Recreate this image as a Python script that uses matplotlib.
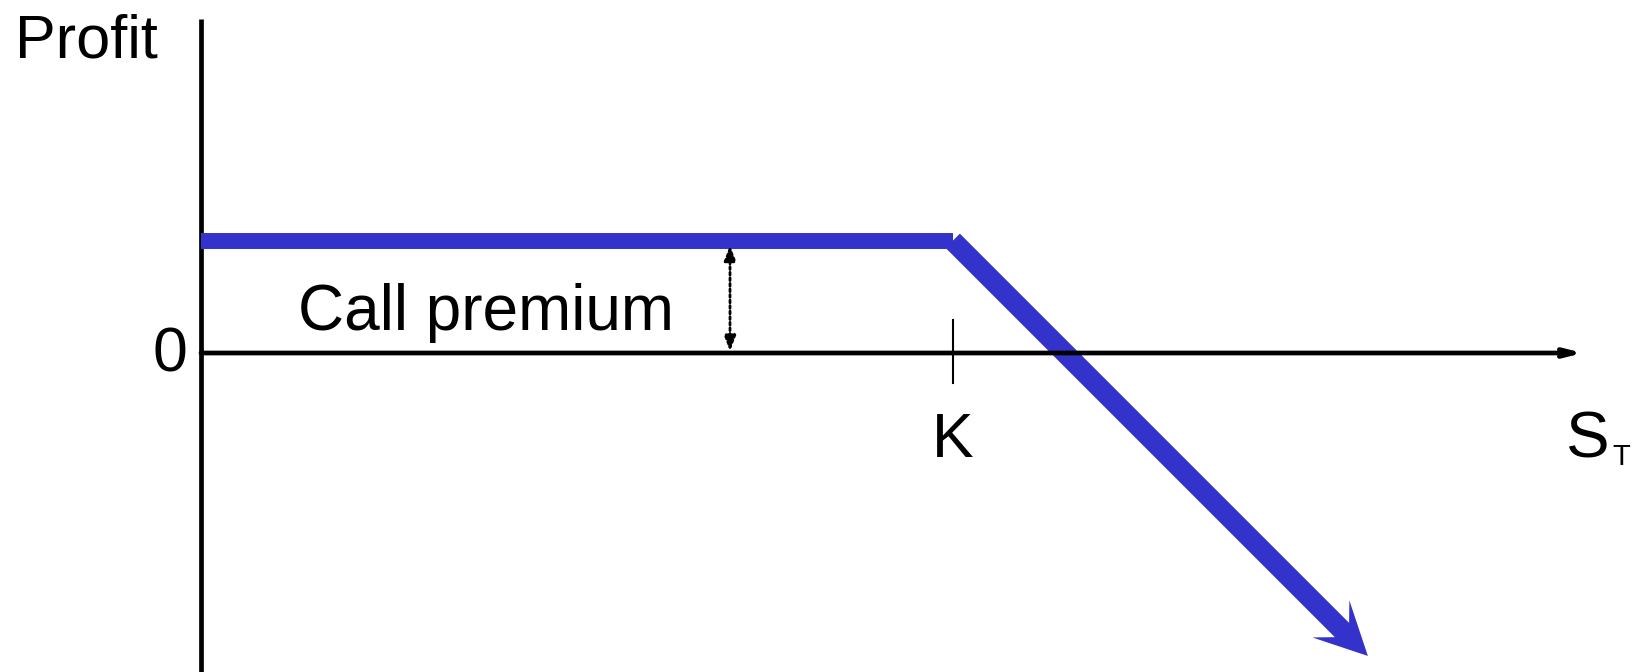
import matplotlib
matplotlib.use("Agg")
import matplotlib.pyplot as plt
from matplotlib.patches import FancyArrow

plt.rcParams['font.family'] = ['Liberation Sans', 'DejaVu Sans']

# data (arbitrary units)
strike = 40.2
premium = 6.0
s_points = [0.0, 40.2, 62.4]
profit = [6.0, 6.0, -16.2]

blue = '#3333CC'
PX = 18.7  # pixels per data unit (both axes)
W, H = 1637, 672
ox, oy = 201, 353

fig = plt.figure(figsize=(W / 100, H / 100), dpi=100)
ax = fig.add_axes([0, 0, 1, 1])
ax.set_xlim(-ox / PX, (W - ox) / PX)
ax.set_ylim(-(H - oy) / PX, oy / PX)
ax.axis('off')

# axes
ax.plot([0, 0], [-20, (oy - 19) / PX], color='black', lw=3.4, solid_capstyle='butt')
ax.annotate('', xy=((1583 - ox) / PX, 0), xytext=(0, 0),
            arrowprops=dict(arrowstyle='->,head_length=1.0,head_width=0.25', lw=3.4,
                            color='black', shrinkA=0, shrinkB=0))
# strike tick
ax.plot([strike, strike], [1.76, -1.6], color='black', lw=1.5)

# profit line
ax.plot(s_points[:2], profit[:2], color=blue, lw=11.5, solid_capstyle='butt')
dx = s_points[2] - s_points[1]
dy = profit[2] - profit[1]
ax.add_patch(FancyArrow(s_points[1], profit[1], dx, dy, width=1.08,
                        head_width=2.8, head_length=2.8, overhang=0.3,
                        length_includes_head=True, color=blue, lw=0))

# premium arrow (dotted)
xp = (730 - ox) / PX
ax.annotate('', xy=(xp, premium - 0.25), xytext=(xp, 0.1),
            arrowprops=dict(arrowstyle='<|-|>,head_length=0.9,head_width=0.35', lw=2.0,
                            ls=(0, (1, 1.0)), color='black', shrinkA=0, shrinkB=0))

fs = 45
ax.text((15 - ox) / PX, (oy - 57) / PX, 'Profit', fontsize=44, ha='left', va='baseline')
ax.text(-0.75, -0.1, '0', fontsize=fs, ha='right', va='center')
ax.text(strike, -(457 - oy) / PX, 'K', fontsize=fs, ha='center', va='baseline')
ax.text((486 - ox) / PX, (oy - 330) / PX, 'Call premium', fontsize=fs + 1, ha='center', va='baseline')
ax.text((1566 - ox) / PX, -(457 - oy) / PX, 'S', fontsize=fs + 2, ha='left', va='baseline')
ax.text((1612 - ox) / PX, -(465 - oy) / PX, 'T', fontsize=21, ha='left', va='baseline')

fig.savefig('out.png', dpi=100)
